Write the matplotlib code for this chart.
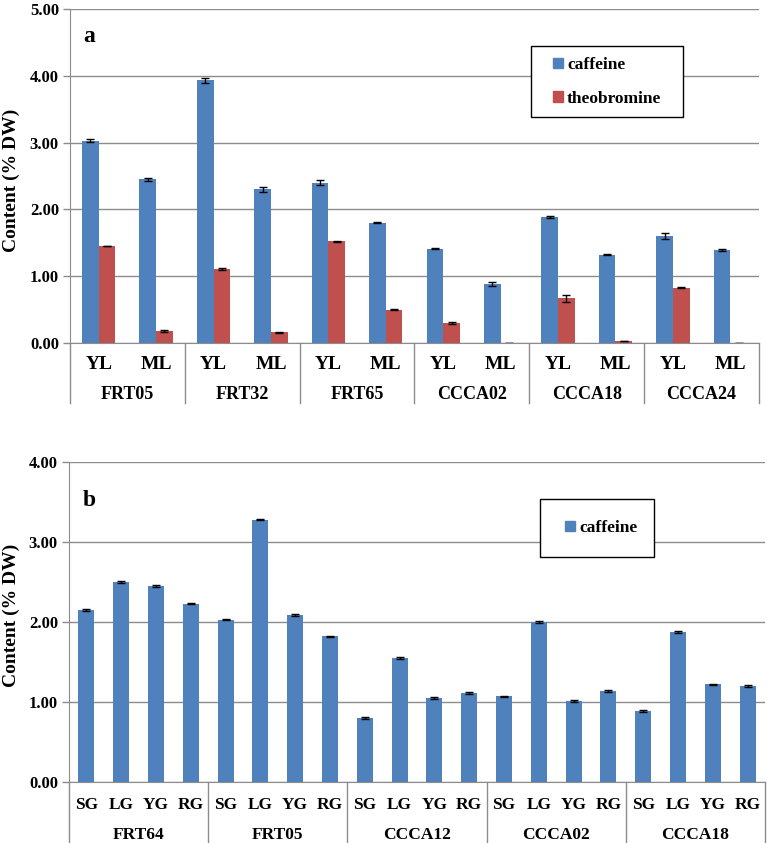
import matplotlib
matplotlib.use("Agg")
import matplotlib.pyplot as plt
import matplotlib.transforms as mtransforms
from matplotlib.patches import Rectangle, Patch
import numpy as np

plt.rcParams['font.family'] = ['Liberation Serif', 'DejaVu Serif']
plt.rcParams['font.weight'] = 'bold'

# ---------------- data: panel a ----------------
a_groups = ["FRT05", "FRT32", "FRT65", "CCCA02", "CCCA18", "CCCA24"]
a_sub = ["YL", "ML"]
a_caffeine = [3.03, 2.45, 3.93, 2.30, 2.40, 1.80, 1.41, 0.89, 1.89, 1.32, 1.60, 1.39]
a_caffeine_err = [0.02, 0.02, 0.04, 0.04, 0.04, 0.005, 0.005, 0.03, 0.015, 0.01, 0.05, 0.01]
a_theobromine = [1.45, 0.18, 1.11, 0.16, 1.52, 0.50, 0.30, 0.005, 0.67, 0.03, 0.83, 0.0]
a_theobromine_err = [0.005, 0.01, 0.01, 0.005, 0.005, 0.005, 0.02, 0.0, 0.05, 0.005, 0.005, 0.0]
a_yticks = [0.0, 1.0, 2.0, 3.0, 4.0, 5.0]

# ---------------- data: panel b ----------------
b_groups = ["FRT64", "FRT05", "CCCA12", "CCCA02", "CCCA18"]
b_sub = ["SG", "LG", "YG", "RG"]
b_caffeine = [2.15, 2.50, 2.45, 2.23,
              2.03, 3.28, 2.09, 1.82,
              0.80, 1.55, 1.05, 1.11,
              1.07, 2.00, 1.01, 1.14,
              0.89, 1.875, 1.22, 1.20]
b_caffeine_err = [0.01, 0.01, 0.01, 0.01,
                  0.01, 0.01, 0.01, 0.01,
                  0.01, 0.01, 0.01, 0.01,
                  0.01, 0.01, 0.01, 0.01,
                  0.01, 0.01, 0.01, 0.01]
b_yticks = [0.0, 1.0, 2.0, 3.0, 4.0]

BLUE = "#4F81BD"
RED = "#C0504D"
GRID = "#8C8C8C"

W, H = 767, 843
fig = plt.figure(figsize=(W / 100, H / 100), dpi=100)


def px_axes(l, r, top, bot):
    return fig.add_axes([l / W, 1 - bot / H, (r - l) / W, (bot - top) / H])


def style_axes(ax, yticks, ymax):
    ax.set_ylim(0, ymax)
    ax.set_yticks(yticks)
    ax.set_yticklabels([f"{v:.2f}" for v in yticks], fontsize=12, fontweight='bold')
    ax.yaxis.grid(True, color=GRID, linewidth=1.0)
    ax.set_axisbelow(True)
    for s in ['top', 'right']:
        ax.spines[s].set_visible(False)
    ax.spines['left'].set_color(GRID)
    ax.spines['bottom'].set_color(GRID)
    ax.tick_params(axis='y', length=5, width=1, color=GRID, pad=3)
    ax.set_xticks([])


def category_axis(ax, ngroups, nsub, sub_labels, group_labels, sep_depth,
                  sub_base, grp_base, ax_h, sub_fs, grp_fs):
    n = ngroups * nsub
    ax.set_xlim(-0.5, n - 0.5)
    trans = mtransforms.blended_transform_factory(ax.transData, ax.transAxes)
    labels = sub_labels * ngroups
    for i, lab in enumerate(labels):
        ax.text(i, -sub_base / ax_h, lab, transform=trans, ha='center', va='baseline',
                fontsize=sub_fs, fontweight='bold')
    for g in range(ngroups + 1):
        xb = g * nsub - 0.5
        ax.plot([xb, xb], [0, -sep_depth / ax_h], color=GRID, lw=1,
                transform=trans, clip_on=False)
    for g, lab in enumerate(group_labels):
        xc = g * nsub + (nsub - 1) / 2
        ax.text(xc, -grp_base / ax_h, lab, transform=trans, ha='center', va='baseline',
                fontsize=grp_fs, fontweight='bold')


ekw = dict(ecolor='black', elinewidth=1, capsize=3, capthick=1)

# ---------------- panel a ----------------
axa = px_axes(70, 759, 9, 343)
ha = 343 - 9
style_axes(axa, a_yticks, 5.0)
na = len(a_caffeine)
xa = np.arange(na)
bw = 0.29
axa.bar(xa - bw / 2, a_caffeine, width=bw, color=BLUE, zorder=2,
        yerr=a_caffeine_err, error_kw=ekw)
axa.bar(xa + bw / 2, a_theobromine, width=bw, color=RED, zorder=2,
        yerr=a_theobromine_err, error_kw=ekw)
category_axis(axa, len(a_groups), len(a_sub), a_sub, a_groups, 60, 26, 56, ha, 14, 13)
axa.text(13 / 689, 1 - 27 / ha, "a", transform=axa.transAxes, fontsize=17, fontweight='bold',
         ha='left', va='center')
fig.text(11 / W, 1 - 180 / H, "Content (% DW)", rotation=90, ha='center', va='center',
         fontsize=14, fontweight='bold')

# legend a
rect = Rectangle((531 / W, 1 - 117 / H), (683 - 531) / W, (117 - 46) / H,
                 transform=fig.transFigure, facecolor='white', edgecolor='black',
                 linewidth=1.0, zorder=5)
fig.patches.append(rect)
leg = fig.legend(handles=[Patch(color=BLUE, label="caffeine"),
                          Patch(color=RED, label="theobromine")],
                 loc='center left', bbox_to_anchor=(553 / W, 1 - 82 / H),
                 frameon=False, handlelength=0.55, handleheight=0.55,
                 handletextpad=0.25, labelspacing=1.0, borderpad=0, borderaxespad=0,
                 prop={'weight': 'bold', 'size': 12.5})
leg.set_zorder(6)

# ---------------- panel b ----------------
axb = px_axes(69, 765, 462, 782)
hb = 782 - 462
style_axes(axb, b_yticks, 4.0)
nb = len(b_caffeine)
xb = np.arange(nb)
axb.bar(xb, b_caffeine, width=0.46, color=BLUE, zorder=2,
        yerr=b_caffeine_err, error_kw=ekw)
category_axis(axb, len(b_groups), len(b_sub), b_sub, b_groups, 62, 27, 57, hb, 12.5, 12.5)
axb.text(14 / 696, 1 - 38 / hb, "b", transform=axb.transAxes, fontsize=17, fontweight='bold',
         ha='left', va='center')
fig.text(11 / W, 1 - 615 / H, "Content (% DW)", rotation=90, ha='center', va='center',
         fontsize=14, fontweight='bold')

rect_b = Rectangle((540 / W, 1 - 557 / H), (654 - 540) / W, (557 - 499) / H,
                   transform=fig.transFigure, facecolor='white', edgecolor='black',
                   linewidth=1.0, zorder=5)
fig.patches.append(rect_b)
leg_b = fig.legend(handles=[Patch(color=BLUE, label="caffeine")],
                   loc='center left', bbox_to_anchor=(565 / W, 1 - 528 / H),
                   frameon=False, handlelength=0.55, handleheight=0.55,
                   handletextpad=0.25, borderpad=0, borderaxespad=0,
                   prop={'weight': 'bold', 'size': 12.5})
leg_b.set_zorder(6)

fig.savefig("out.png", dpi=100)
